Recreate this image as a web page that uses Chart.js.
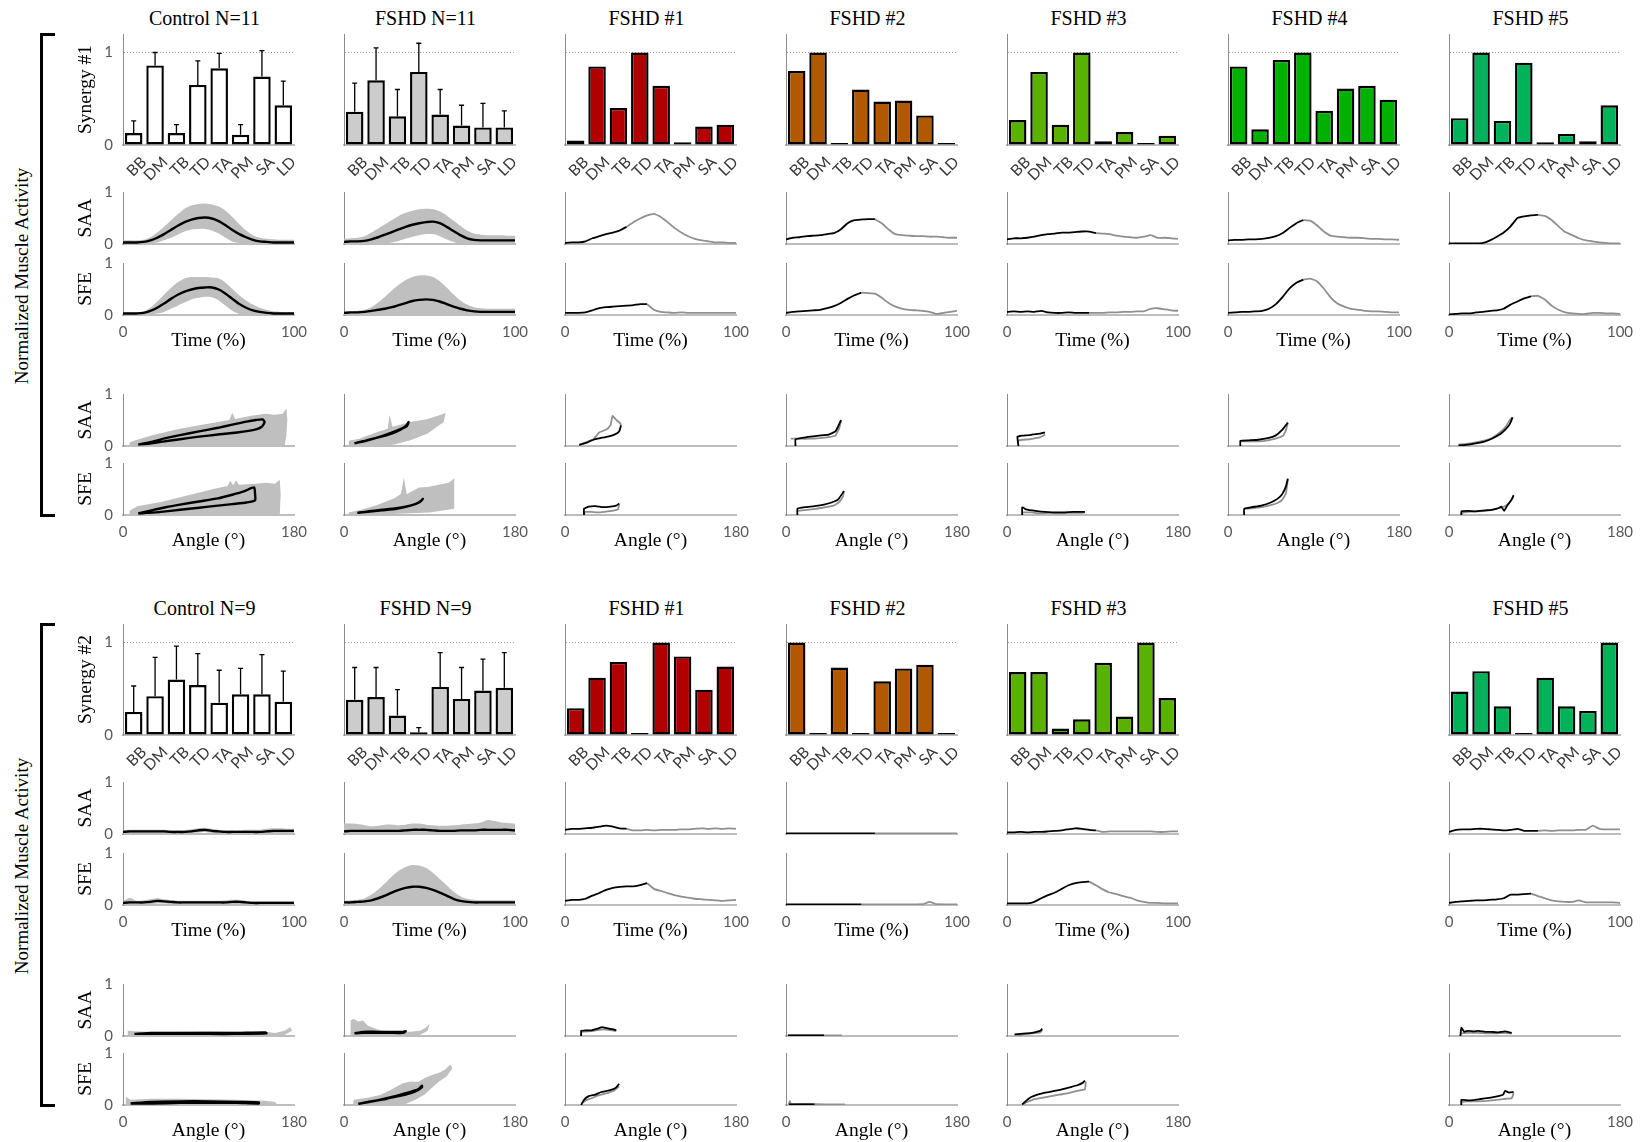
<!DOCTYPE html>
<html>
<head>
<meta charset="utf-8">
<script src="https://cdn.jsdelivr.net/npm/chart.js@4.4.1/dist/chart.umd.min.js"></script>
<style>
  html, body { margin: 0; padding: 0; background: #fff; }
  #fig { position: relative; width: 1643px; height: 1142px; overflow: hidden; background: #fff; }
  #fig canvas { position: absolute; }
  .ttl { position: absolute; font-family: 'Liberation Serif', 'Times New Roman', serif; font-size: 20px; color: #000;
         white-space: nowrap; transform: translate(-50%, -50%); line-height: 1; }
  .side { position: absolute; font-family: 'Liberation Serif', 'Times New Roman', serif; font-size: 19px; color: #000;
          white-space: nowrap; transform: translate(-50%, -50%) rotate(-90deg); line-height: 1; }
  .brk { position: absolute; border: 3px solid #000; border-right: none; width: 12px; }
</style>
</head>
<body>
<div id="fig"></div>
<script>
// ---------------- muscles and time base ----------------
const MUSCLES = ['BB', 'DM', 'TB', 'TD', 'TA', 'PM', 'SA', 'LD'];
const TIME = [0, 4, 8, 12, 16, 20, 24, 28, 32, 36, 40, 44, 48, 52, 56, 60, 64, 68, 72, 76, 80, 84, 88, 92, 96, 100];
const ZERO26 = [0,0,0,0,0,0,0,0,0,0,0,0,0,0,0,0,0,0,0,0,0,0,0,0,0,0];

// ---------------- Synergy #1: muscle weights ----------------
const s1_ctrl_w  = [0.13, 0.86, 0.13, 0.65, 0.83, 0.11, 0.74, 0.43];
const s1_ctrl_sd = [0.13, 0.14, 0.09, 0.26, 0.16, 0.11, 0.28, 0.26];
const s1_fshd_w  = [0.36, 0.70, 0.31, 0.79, 0.33, 0.21, 0.19, 0.19];
const s1_fshd_sd = [0.31, 0.35, 0.29, 0.31, 0.27, 0.22, 0.26, 0.18];
const s1_p1_w = [0.05, 0.85, 0.40, 1.00, 0.64, 0.03, 0.20, 0.22];
const s1_p2_w = [0.80, 1.00, 0.01, 0.60, 0.47, 0.48, 0.32, 0.01];
const s1_p3_w = [0.27, 0.79, 0.22, 1.00, 0.04, 0.14, 0.01, 0.10];
const s1_p4_w = [0.85, 0.17, 0.92, 1.00, 0.37, 0.61, 0.64, 0.49];
const s1_p5_w = [0.29, 1.00, 0.26, 0.89, 0.03, 0.12, 0.04, 0.43];

// ---------------- Synergy #1: activation over time ----------------
const s1_ctrl_saa_mean = [0.03,0.03,0.03,0.04,0.07,0.12,0.19,0.27,0.35,0.42,0.47,0.50,0.51,0.49,0.44,0.36,0.27,0.19,0.13,0.08,0.05,0.04,0.03,0.03,0.03,0.03];
const s1_ctrl_saa_hi   = [0.07,0.07,0.07,0.08,0.13,0.22,0.33,0.45,0.57,0.68,0.74,0.77,0.78,0.76,0.72,0.64,0.52,0.38,0.26,0.17,0.12,0.10,0.09,0.08,0.08,0.08];
const s1_ctrl_saa_lo   = [0,0,0,0,0.01,0.03,0.07,0.12,0.18,0.24,0.28,0.29,0.29,0.26,0.20,0.12,0.05,0.02,0,0,0,0,0,0,0,0];
const s1_ctrl_sfe_mean = [0.03,0.03,0.03,0.04,0.08,0.14,0.22,0.31,0.39,0.45,0.49,0.52,0.53,0.53,0.49,0.41,0.31,0.21,0.14,0.09,0.06,0.04,0.03,0.03,0.03,0.03];
const s1_ctrl_sfe_hi   = [0.05,0.05,0.05,0.07,0.14,0.26,0.39,0.52,0.63,0.70,0.73,0.73,0.73,0.72,0.70,0.62,0.50,0.38,0.28,0.20,0.14,0.10,0.07,0.06,0.05,0.05];
const s1_ctrl_sfe_lo   = [0,0,0,0,0.01,0.03,0.06,0.12,0.18,0.24,0.30,0.33,0.35,0.34,0.28,0.18,0.08,0.02,0,0,0,0,0,0,0,0];
const s1_fshd_saa_mean = [0.04,0.05,0.05,0.06,0.09,0.13,0.18,0.23,0.28,0.33,0.37,0.40,0.42,0.43,0.40,0.33,0.25,0.17,0.11,0.08,0.07,0.07,0.07,0.07,0.07,0.07];
const s1_fshd_saa_hi   = [0.10,0.11,0.12,0.15,0.22,0.30,0.38,0.46,0.54,0.60,0.64,0.67,0.68,0.67,0.63,0.55,0.45,0.35,0.26,0.20,0.18,0.17,0.17,0.17,0.16,0.16];
const s1_fshd_saa_lo   = [0,0,0,0,0,0,0.01,0.03,0.06,0.10,0.14,0.17,0.19,0.19,0.15,0.09,0.04,0.01,0,0,0,0,0,0,0,0];
const s1_fshd_sfe_mean = [0.04,0.05,0.05,0.06,0.08,0.10,0.12,0.15,0.19,0.23,0.27,0.29,0.30,0.29,0.26,0.21,0.16,0.12,0.09,0.07,0.06,0.06,0.06,0.06,0.06,0.06];
const s1_fshd_sfe_hi   = [0.06,0.07,0.08,0.10,0.15,0.24,0.35,0.47,0.58,0.67,0.73,0.76,0.76,0.73,0.65,0.53,0.40,0.28,0.20,0.15,0.13,0.12,0.12,0.12,0.12,0.12];
const s1_fshd_sfe_lo   = ZERO26;

const s1_p1_saa = [0.02,0.03,0.03,0.05,0.11,0.15,0.19,0.22,0.26,0.33,0.42,0.49,0.55,0.58,0.52,0.42,0.31,0.22,0.15,0.10,0.07,0.05,0.03,0.03,0.02,0.02];
const s1_p1_sfe = [0.04,0.04,0.04,0.05,0.09,0.13,0.15,0.16,0.17,0.18,0.19,0.21,0.21,0.10,0.06,0.05,0.04,0.05,0.04,0.04,0.04,0.04,0.04,0.04,0.04,0.04];
const s1_p2_saa = [0.09,0.12,0.13,0.15,0.16,0.17,0.19,0.21,0.28,0.40,0.46,0.47,0.48,0.48,0.40,0.28,0.19,0.17,0.16,0.15,0.15,0.14,0.14,0.13,0.12,0.12];
const s1_p2_sfe = [0.04,0.06,0.07,0.08,0.09,0.10,0.13,0.17,0.23,0.31,0.38,0.43,0.42,0.41,0.33,0.23,0.16,0.12,0.10,0.09,0.08,0.06,0.02,0.04,0.06,0.08];
const s1_p3_saa = [0.09,0.11,0.11,0.12,0.14,0.17,0.19,0.20,0.22,0.22,0.23,0.24,0.24,0.21,0.20,0.19,0.16,0.14,0.13,0.12,0.14,0.17,0.12,0.12,0.11,0.10];
const s1_p3_sfe = [0.06,0.07,0.06,0.07,0.06,0.08,0.05,0.04,0.04,0.05,0.04,0.04,0.04,0.04,0.04,0.05,0.05,0.06,0.06,0.07,0.07,0.12,0.13,0.11,0.09,0.08];
const s1_p4_saa = [0.07,0.08,0.08,0.09,0.09,0.10,0.12,0.15,0.21,0.31,0.40,0.46,0.45,0.36,0.24,0.16,0.14,0.13,0.12,0.12,0.11,0.10,0.10,0.09,0.09,0.08];
const s1_p4_sfe = [0.04,0.05,0.06,0.06,0.07,0.08,0.12,0.21,0.35,0.51,0.62,0.68,0.70,0.65,0.51,0.34,0.22,0.16,0.12,0.10,0.08,0.07,0.07,0.06,0.05,0.05];
const s1_p5_saa = [0.01,0.01,0.01,0.01,0.01,0.02,0.07,0.14,0.22,0.34,0.50,0.53,0.55,0.56,0.54,0.46,0.34,0.23,0.17,0.11,0.07,0.05,0.03,0.02,0.01,0.01];
const s1_p5_sfe = [0.01,0.02,0.03,0.03,0.05,0.06,0.08,0.09,0.12,0.20,0.26,0.32,0.36,0.37,0.30,0.18,0.10,0.05,0.03,0.02,0.02,0.04,0.04,0.03,0.03,0.02];
// sample index where the raising phase ends and the lowering phase starts (FSHD #1..#5)
const s1_saa_turn = [9, 13, 13, 11, 13];
const s1_sfe_turn = [12, 11, 12, 11, 12];

// ---------------- Synergy #1: activation against elevation angle ----------------
const s1_ctrl_saa_loop = [[16,0.03],[30,0.08],[45,0.15],[60,0.21],[80,0.28],[100,0.35],[115,0.41],[130,0.47],[140,0.50],[147,0.51],[149,0.46],[146,0.37],[140,0.32],[120,0.26],[100,0.22],[80,0.18],[60,0.13],[40,0.08],[25,0.04],[16,0.03]];
const s1_ctrl_saa_band = [[7,0],[7,0.07],[15,0.12],[30,0.20],[45,0.27],[60,0.33],[80,0.40],[100,0.46],[112,0.50],[115,0.64],[118,0.52],[135,0.58],[150,0.62],[160,0.60],[168,0.62],[172,0.72],[173,0.50],[172,0.20],[170,0],[100,0],[30,0],[7,0]];
const s1_ctrl_sfe_loop = [[16,0.03],[30,0.09],[45,0.15],[60,0.20],[80,0.26],[100,0.32],[115,0.39],[128,0.46],[138,0.53],[139,0.40],[139,0.28],[130,0.24],[115,0.21],[100,0.18],[80,0.14],[60,0.10],[40,0.06],[25,0.04],[16,0.03]];
const s1_ctrl_sfe_band = [[7,0],[7,0.08],[15,0.17],[40,0.25],[75,0.41],[95,0.50],[110,0.56],[113,0.66],[116,0.57],[119,0.67],[122,0.58],[140,0.60],[150,0.62],[160,0.60],[165,0.68],[166,0.40],[165,0],[100,0],[7,0]];
const s1_fshd_saa_loop = [[11,0.05],[20,0.09],[35,0.16],[50,0.24],[60,0.32],[66,0.40],[68,0.46],[66,0.38],[55,0.29],[40,0.19],[25,0.11],[13,0.06],[11,0.05]];
const s1_fshd_saa_band = [[5,0],[5,0.10],[16,0.14],[35,0.27],[46,0.33],[48,0.60],[51,0.37],[70,0.46],[88,0.52],[102,0.60],[107,0.64],[105,0.46],[88,0.24],[70,0.11],[53,0.03],[40,0],[5,0]];
const s1_fshd_sfe_loop = [[14,0.04],[25,0.07],[40,0.10],[55,0.13],[65,0.16],[75,0.21],[81,0.27],[83,0.31],[80,0.25],[70,0.18],[55,0.12],[40,0.09],[25,0.06],[14,0.04]];
const s1_fshd_sfe_band = [[5,0],[5,0.05],[18,0.10],[35,0.19],[53,0.32],[60,0.41],[63,0.72],[66,0.40],[79,0.53],[88,0.54],[100,0.58],[110,0.62],[116,0.70],[116,0.12],[90,0.05],[50,0.02],[5,0]];

const s1_p1_saa_up   = [[15,0.02],[22,0.06],[30,0.12],[37,0.15],[45,0.18],[52,0.22],[57,0.28],[59,0.40]];
const s1_p1_saa_back = [[15,0.02],[22,0.07],[30,0.13],[36,0.26],[44,0.32],[48,0.40],[50,0.58],[54,0.50],[58,0.44],[59,0.40]];
const s1_p1_sfe_up   = [[20,0],[20,0.12],[25,0.16],[32,0.17],[40,0.15],[48,0.16],[54,0.18],[57,0.22]];
const s1_p1_sfe_back = [[20,0],[21,0.06],[28,0.06],[36,0.05],[45,0.07],[52,0.09],[56,0.11],[57,0.22]];
const s1_p2_saa_up   = [[10,0],[10,0.13],[18,0.16],[26,0.18],[35,0.20],[45,0.22],[52,0.28],[55,0.38],[58,0.50]];
const s1_p2_saa_back = [[5,0.14],[15,0.14],[25,0.14],[35,0.15],[45,0.17],[52,0.20],[56,0.34],[58,0.48]];
const s1_p2_sfe_up   = [[12,0],[12,0.12],[20,0.15],[30,0.17],[40,0.20],[48,0.24],[55,0.30],[61,0.46]];
const s1_p2_sfe_back = [[12,0.08],[22,0.10],[32,0.12],[42,0.15],[50,0.18],[56,0.25],[60,0.36],[61,0.46]];
const s1_p3_saa_up   = [[12,0],[11,0.18],[16,0.20],[24,0.21],[30,0.23],[35,0.24],[40,0.26]];
const s1_p3_saa_back = [[11,0.10],[16,0.12],[24,0.13],[30,0.15],[35,0.17],[40,0.22]];
const s1_p3_sfe_up   = [[16,0],[16,0.15],[20,0.11],[30,0.08],[40,0.06],[55,0.05],[70,0.06],[82,0.06]];
const s1_p3_sfe_back = [[16,0.05],[25,0.05],[35,0.03],[45,0.04],[55,0.03],[65,0.04],[75,0.04],[82,0.05]];
const s1_p4_saa_up   = [[13,0],[13,0.10],[22,0.11],[32,0.12],[42,0.15],[50,0.20],[57,0.31],[63,0.45]];
const s1_p4_saa_back = [[13,0.09],[22,0.09],[32,0.09],[42,0.11],[50,0.14],[58,0.20],[61,0.30],[63,0.45]];
const s1_p4_sfe_up   = [[17,0],[17,0.12],[25,0.15],[35,0.18],[45,0.24],[52,0.31],[57,0.40],[61,0.55],[63,0.70]];
const s1_p4_sfe_back = [[17,0.12],[25,0.13],[35,0.15],[45,0.19],[52,0.23],[57,0.29],[61,0.42],[63,0.68]];
const s1_p5_saa_up   = [[10,0.01],[18,0.02],[28,0.05],[38,0.09],[45,0.14],[54,0.23],[60,0.33],[64,0.42],[67,0.55]];
const s1_p5_saa_back = [[10,0.03],[18,0.04],[28,0.07],[38,0.11],[45,0.15],[54,0.27],[60,0.38],[64,0.50],[67,0.55]];
const s1_p5_sfe_up   = [[13,0],[13,0.07],[20,0.08],[28,0.07],[38,0.09],[45,0.10],[52,0.13],[55,0.16],[58,0.08],[62,0.20],[66,0.30],[68,0.38]];
const s1_p5_sfe_back = [[13,0.04],[20,0.06],[28,0.07],[38,0.08],[45,0.10],[52,0.13],[56,0.15],[60,0.18],[64,0.24],[68,0.36]];

// ---------------- Synergy #2: muscle weights ----------------
const s2_ctrl_w  = [0.25, 0.42, 0.60, 0.54, 0.35, 0.44, 0.44, 0.36];
const s2_ctrl_sd = [0.28, 0.42, 0.36, 0.34, 0.35, 0.28, 0.43, 0.33];
const s2_fshd_w  = [0.38, 0.41, 0.21, 0.03, 0.52, 0.39, 0.48, 0.51];
const s2_fshd_sd = [0.35, 0.32, 0.28, 0.05, 0.37, 0.34, 0.34, 0.38];
const s2_p1_w = [0.29, 0.62, 0.79, 0.01, 1.00, 0.85, 0.49, 0.74];
const s2_p2_w = [1.00, 0.01, 0.73, 0.01, 0.58, 0.72, 0.76, 0.01];
const s2_p3_w = [0.68, 0.68, 0.07, 0.17, 0.78, 0.20, 1.00, 0.40];
const s2_p5_w = [0.47, 0.69, 0.31, 0.01, 0.62, 0.31, 0.26, 1.00];

// ---------------- Synergy #2: activation over time ----------------
const s2_ctrl_saa_mean = [0.04,0.05,0.05,0.05,0.05,0.05,0.05,0.04,0.04,0.04,0.05,0.07,0.08,0.06,0.05,0.04,0.04,0.04,0.04,0.04,0.04,0.05,0.06,0.06,0.06,0.06];
const s2_ctrl_saa_hi   = [0.07,0.08,0.08,0.08,0.08,0.08,0.08,0.07,0.07,0.07,0.09,0.11,0.12,0.10,0.08,0.07,0.07,0.07,0.08,0.08,0.08,0.10,0.11,0.11,0.10,0.10];
const s2_ctrl_saa_lo   = [0.01,0.02,0.02,0.02,0.02,0.02,0.02,0.01,0.01,0.01,0.02,0.03,0.04,0.02,0.02,0.01,0.01,0.01,0.01,0.01,0.01,0.01,0.02,0.02,0.02,0.02];
const s2_ctrl_sfe_mean = [0.04,0.05,0.05,0.05,0.06,0.08,0.07,0.06,0.05,0.05,0.05,0.05,0.05,0.05,0.05,0.05,0.06,0.06,0.05,0.04,0.04,0.04,0.04,0.04,0.04,0.04];
const s2_ctrl_sfe_hi   = [0.07,0.14,0.08,0.09,0.11,0.13,0.11,0.09,0.08,0.08,0.08,0.08,0.08,0.08,0.08,0.09,0.10,0.10,0.08,0.07,0.07,0.07,0.07,0.07,0.07,0.07];
const s2_ctrl_sfe_lo   = [0.01,0.01,0.02,0.02,0.02,0.03,0.03,0.02,0.02,0.02,0.02,0.02,0.02,0.02,0.02,0.02,0.02,0.02,0.02,0.01,0.01,0.01,0.01,0.01,0.01,0.01];
const s2_fshd_saa_mean = [0.05,0.06,0.06,0.06,0.06,0.06,0.06,0.06,0.06,0.07,0.08,0.08,0.08,0.07,0.06,0.06,0.06,0.07,0.07,0.07,0.08,0.08,0.08,0.08,0.08,0.07];
const s2_fshd_saa_hi   = [0.20,0.20,0.19,0.17,0.15,0.16,0.18,0.18,0.17,0.18,0.20,0.20,0.18,0.17,0.16,0.16,0.17,0.18,0.19,0.20,0.22,0.27,0.25,0.22,0.21,0.20];
const s2_fshd_saa_lo   = ZERO26;
const s2_fshd_sfe_mean = [0.05,0.05,0.06,0.07,0.09,0.13,0.18,0.24,0.29,0.33,0.35,0.35,0.33,0.29,0.24,0.18,0.12,0.08,0.06,0.05,0.05,0.05,0.05,0.05,0.05,0.05];
const s2_fshd_sfe_hi   = [0.08,0.09,0.10,0.13,0.20,0.30,0.42,0.55,0.66,0.73,0.77,0.76,0.71,0.62,0.50,0.38,0.26,0.17,0.12,0.10,0.09,0.09,0.09,0.09,0.09,0.09];
const s2_fshd_sfe_lo   = ZERO26;

const s2_p1_saa = [0.08,0.10,0.10,0.11,0.12,0.14,0.16,0.14,0.11,0.10,0.07,0.07,0.08,0.07,0.08,0.08,0.08,0.09,0.09,0.10,0.11,0.10,0.11,0.10,0.11,0.10];
const s2_p1_sfe = [0.08,0.10,0.10,0.12,0.18,0.23,0.29,0.33,0.35,0.36,0.36,0.38,0.42,0.31,0.27,0.23,0.19,0.16,0.14,0.12,0.11,0.10,0.09,0.08,0.09,0.10];
const s2_p2_saa = [0.012,0.012,0.012,0.012,0.012,0.012,0.012,0.012,0.012,0.012,0.012,0.012,0.012,0.012,0.012,0.012,0.012,0.012,0.012,0.012,0.012,0.012,0.012,0.012,0.012,0.012];
const s2_p2_sfe = [0.012,0.012,0.012,0.012,0.012,0.012,0.012,0.012,0.012,0.012,0.012,0.012,0.012,0.012,0.012,0.012,0.012,0.012,0.012,0.012,0.015,0.06,0.015,0.012,0.012,0.012];
const s2_p3_saa = [0.03,0.03,0.04,0.03,0.04,0.04,0.05,0.06,0.07,0.09,0.11,0.10,0.08,0.07,0.04,0.05,0.05,0.05,0.05,0.05,0.05,0.05,0.04,0.04,0.05,0.05];
const s2_p3_sfe = [0.03,0.03,0.03,0.03,0.06,0.13,0.19,0.24,0.31,0.38,0.42,0.44,0.45,0.38,0.30,0.24,0.21,0.17,0.14,0.09,0.06,0.04,0.04,0.03,0.03,0.03];
const s2_p5_saa = [0.04,0.08,0.09,0.09,0.10,0.10,0.09,0.08,0.07,0.08,0.10,0.06,0.06,0.06,0.07,0.06,0.07,0.07,0.07,0.08,0.08,0.16,0.10,0.09,0.09,0.09];
const s2_p5_sfe = [0.04,0.06,0.07,0.08,0.09,0.09,0.10,0.11,0.13,0.20,0.20,0.21,0.22,0.17,0.13,0.09,0.07,0.06,0.06,0.09,0.05,0.05,0.05,0.05,0.05,0.04];
// sample index of the turn for FSHD #1, #2, #3, #5
const s2_saa_turn = [9, 13, 13, 13];
const s2_sfe_turn = [12, 11, 12, 12];

// ---------------- Synergy #2: activation against elevation angle ----------------
const s2_ctrl_saa_loop = [[12,0.04],[30,0.06],[60,0.06],[90,0.06],[120,0.06],[150,0.07],[151,0.05],[120,0.04],[90,0.04],[60,0.04],[30,0.04],[12,0.04]];
const s2_ctrl_saa_band = [[5,0],[5,0.10],[12,0.09],[30,0.08],[60,0.08],[90,0.09],[120,0.08],[150,0.08],[160,0.06],[170,0.10],[176,0.17],[178,0.10],[170,0.02],[150,0.01],[5,0]];
const s2_ctrl_sfe_loop = [[8,0.03],[30,0.06],[60,0.07],[90,0.07],[120,0.06],[143,0.05],[143,0.03],[120,0.04],[90,0.04],[60,0.04],[30,0.03],[8,0.03]];
const s2_ctrl_sfe_band = [[3,0],[3,0.16],[8,0.10],[30,0.12],[60,0.12],[90,0.11],[120,0.10],[150,0.08],[160,0.06],[162,0.02],[150,0],[3,0]];
const s2_fshd_saa_loop = [[11,0.05],[20,0.08],[35,0.08],[50,0.08],[62,0.08],[65,0.09],[62,0.06],[50,0.06],[35,0.06],[20,0.06],[11,0.05]];
const s2_fshd_saa_band = [[7,0],[7,0.30],[10,0.33],[15,0.28],[20,0.30],[25,0.20],[32,0.15],[40,0.10],[55,0.09],[70,0.08],[80,0.10],[86,0.16],[90,0.23],[88,0.10],[80,0.02],[60,0.01],[7,0]];
const s2_fshd_sfe_loop = [[15,0.02],[25,0.06],[35,0.09],[45,0.12],[55,0.16],[65,0.20],[75,0.26],[82,0.34],[82,0.37],[78,0.30],[68,0.24],[58,0.19],[45,0.13],[30,0.07],[15,0.02]];
const s2_fshd_sfe_band = [[10,0.02],[10,0.10],[25,0.14],[38,0.19],[48,0.28],[55,0.35],[62,0.42],[70,0.45],[78,0.44],[85,0.52],[92,0.57],[100,0.62],[106,0.68],[112,0.78],[114,0.70],[108,0.55],[100,0.45],[92,0.32],[85,0.20],[75,0.10],[65,0.02],[58,0],[25,0],[10,0.02]];

const s2_p1_saa_up   = [[17,0],[17,0.10],[22,0.11],[28,0.11],[34,0.14],[39,0.17],[44,0.15],[50,0.13],[54,0.11]];
const s2_p1_saa_back = [[17,0.08],[24,0.09],[30,0.10],[36,0.12],[40,0.13],[46,0.12],[52,0.10],[54,0.10]];
const s2_p1_sfe_up   = [[17,0],[20,0.10],[25,0.17],[32,0.20],[38,0.25],[44,0.27],[50,0.30],[54,0.34],[57,0.41]];
const s2_p1_sfe_back = [[17,0.03],[22,0.09],[28,0.13],[34,0.18],[40,0.21],[46,0.24],[52,0.28],[57,0.36]];
const s2_p2_saa_up   = [[2,0.012],[40,0.012]];
const s2_p2_saa_back = [[2,0.012],[59,0.012]];
const s2_p2_sfe_up   = [[3,0.012],[30,0.012]];
const s2_p2_sfe_back = [[3,0.012],[4,0.08],[5,0.02],[20,0.02],[40,0.012],[62,0.012]];
const s2_p3_saa_up   = [[8,0.03],[14,0.04],[20,0.05],[26,0.06],[31,0.08],[35,0.10],[37,0.14]];
const s2_p3_saa_back = [[8,0.02],[14,0.02],[20,0.04],[26,0.05],[31,0.06],[35,0.07],[37,0.12]];
const s2_p3_sfe_up   = [[16,0.01],[20,0.08],[25,0.15],[32,0.20],[40,0.24],[50,0.27],[58,0.30],[66,0.34],[74,0.38],[80,0.43],[82,0.47]];
const s2_p3_sfe_back = [[16,0],[20,0.05],[27,0.10],[35,0.13],[44,0.16],[55,0.20],[65,0.23],[74,0.27],[82,0.30],[83,0.45]];
const s2_p5_saa_up   = [[12,0],[13,0.16],[16,0.08],[20,0.10],[26,0.09],[31,0.10],[38,0.08],[44,0.08],[52,0.07],[59,0.09],[66,0.06]];
const s2_p5_saa_back = [[12,0.05],[20,0.06],[30,0.06],[40,0.05],[50,0.05],[58,0.06],[63,0.05],[66,0.05]];
const s2_p5_sfe_up   = [[13,0],[13,0.10],[20,0.09],[27,0.10],[35,0.12],[44,0.14],[52,0.17],[57,0.20],[59,0.27],[63,0.24],[68,0.25]];
const s2_p5_sfe_back = [[13,0.06],[20,0.07],[30,0.07],[40,0.08],[50,0.10],[60,0.12],[66,0.13],[68,0.23]];

// ---------------- figure layout ----------------
// y tick padding also widens Chart.js' top/bottom padding, so every canvas
// reserves PAD_T above the plot and at least that much below it
const COL_X0 = 123, COL_DX = 221, PLOT_W = 171;
const AXIS_W = 50, PAD_T = 22, PAD_R = 24;
const BLOCK_DY = 590;
const ROWS = {
  bar:  { top: 34,  bottom: 145, axisH: 42 },
  saaT: { top: 192, bottom: 244, axisH: 22 },
  sfeT: { top: 263, bottom: 315, axisH: 40 },
  saaA: { top: 394, bottom: 446, axisH: 22 },
  sfeA: { top: 463, bottom: 515, axisH: 40 }
};
const SERIF = "'Liberation Serif', 'Times New Roman', serif";
const SANS = "Lato, 'Open Sans', sans-serif";
const TICK_FONT = { family: SANS, size: 15 };
const CAT_FONT = { family: SANS, size: 15.5 };
const LABEL_FONT = { family: SERIF, size: 19.5 };
const TICK_COLOR = '#595959';
const BAND = '#bfbfbf';
const RETURN_GREY = '#8f8f8f';
const BAR_COLORS = ['#ffffff', '#cccccc', '#b20000', '#b25900', '#59b200', '#00b200', '#00b259'];

const fig = document.getElementById('fig');

function place(c, b, row) {
  const r = ROWS[row];
  const cv = document.createElement('canvas');
  const w = AXIS_W + PLOT_W + PAD_R;
  const h = PAD_T + (r.bottom - r.top) + r.axisH;
  cv.width = w; cv.height = h;
  cv.style.width = w + 'px'; cv.style.height = h + 'px';
  cv.style.left = (COL_X0 + COL_DX * c - AXIS_W) + 'px';
  cv.style.top = (r.top + BLOCK_DY * b - PAD_T) + 'px';
  fig.appendChild(cv);
  return cv;
}

function baseOptions() {
  return {
    responsive: false, animation: false, devicePixelRatio: 1, events: [],
    layout: { padding: { top: PAD_T, right: PAD_R, left: 0, bottom: 0 } },
    plugins: { legend: { display: false }, tooltip: { enabled: false } },
    elements: { point: { radius: 0 } }
  };
}

function yAxis(max, first, label, dotted) {
  return {
    type: 'linear', min: 0, max: max,
    afterBuildTicks: s => { s.ticks = [{ value: 0 }, { value: 1 }]; },
    afterFit: s => { s.width = AXIS_W; },
    ticks: { display: first, padding: 10, font: TICK_FONT, color: TICK_COLOR },
    grid: dotted
      ? { display: true, drawTicks: false, lineWidth: 1,
          color: ctx => (ctx.tick && ctx.tick.value === 1) ? '#9a9a9a' : 'rgba(0,0,0,0)' }
      : { display: false, drawTicks: false },
    border: { display: true, color: '#8c8c8c', width: 1, dash: dotted ? [1, 2] : [] },
    title: { display: first, text: label, font: LABEL_FONT, color: '#000', padding: { top: 1, bottom: 0 } }
  };
}

function xLinear(max, show, label, axisH) {
  return {
    type: 'linear', min: 0, max: max,
    afterBuildTicks: s => { s.ticks = [{ value: 0 }, { value: max }]; },
    afterFit: s => { s.height = axisH; },
    ticks: { display: show, padding: 8, maxRotation: 0, minRotation: 0, font: TICK_FONT, color: TICK_COLOR },
    grid: { display: false, drawTicks: false },
    border: { display: true, color: '#bdbdbd', width: 2 },
    title: { display: show, text: label, font: LABEL_FONT, color: '#000', padding: { top: 0, bottom: 2 } }
  };
}

// upward error bars (mean + SD) with a small cap
const errorBars = {
  id: 'errorBars',
  afterDatasetsDraw(chart) {
    const ds = chart.data.datasets[0];
    if (!ds.errors) return;
    const meta = chart.getDatasetMeta(0);
    const y = chart.scales.y;
    const ctx = chart.ctx;
    ctx.save();
    ctx.strokeStyle = '#000';
    ctx.lineWidth = 1.3;
    meta.data.forEach((bar, i) => {
      const top = y.getPixelForValue(ds.data[i] + ds.errors[i]);
      ctx.beginPath();
      ctx.moveTo(bar.x, bar.y);
      ctx.lineTo(bar.x, top);
      ctx.moveTo(bar.x - 2.5, top);
      ctx.lineTo(bar.x + 2.5, top);
      ctx.stroke();
    });
    ctx.restore();
  }
};

function barPanel(b, col, synLabel) {
  const cv = place(col.c, b, 'bar');
  const first = col.c === 0;
  const opts = baseOptions();
  opts.scales = {
    x: {
      type: 'category', offset: true,
      afterFit: s => { s.height = ROWS.bar.axisH; },
      ticks: { minRotation: 45, maxRotation: 45, autoSkip: false, padding: 8, labelOffset: 10,
               font: CAT_FONT, color: '#383838' },
      grid: { display: false, drawTicks: false },
      border: { display: true, color: '#bdbdbd', width: 2 }
    },
    y: yAxis(1.2, first, synLabel, true)
  };
  new Chart(cv, {
    type: 'bar',
    data: {
      labels: MUSCLES,
      datasets: [{
        data: col.w, errors: col.sd || null,
        backgroundColor: col.color, borderColor: '#000', borderWidth: 2.4, borderSkipped: false,
        barPercentage: 0.82, categoryPercentage: 1, minBarLength: 2
      }]
    },
    options: opts,
    plugins: [errorBars]
  });
}

const timePts = arr => arr.map((v, i) => [TIME[i], v]);

function linePanel(b, c, row, datasets) {
  const cv = place(c, b, row);
  const first = c === 0;
  const isTime = row === 'saaT' || row === 'sfeT';
  const showX = row === 'sfeT' || row === 'sfeA';
  const opts = baseOptions();
  opts.scales = {
    x: xLinear(isTime ? 100 : 180, showX, isTime ? 'Time (%)' : 'Angle (\u00b0)', ROWS[row].axisH),
    y: yAxis(1, first, row.startsWith('saa') ? 'SAA' : 'SFE', false)
  };
  new Chart(cv, { type: 'line', data: { datasets: datasets }, options: opts });
}

function groupTime(t) {
  return [
    { data: timePts(t.mean), borderColor: '#000', borderWidth: 2.4, tension: 0.3, fill: false },
    { data: timePts(t.hi), borderColor: 'rgba(0,0,0,0)', borderWidth: 0, backgroundColor: BAND, fill: '+1', tension: 0.3 },
    { data: timePts(t.lo), borderColor: 'rgba(0,0,0,0)', borderWidth: 0, fill: false, tension: 0.3 }
  ];
}
function groupAngle(a) {
  return [
    { data: a.loop, borderColor: '#000', borderWidth: 2.4, tension: 0.2, fill: false },
    { data: a.band, borderColor: 'rgba(0,0,0,0)', borderWidth: 0, backgroundColor: BAND, fill: 'shape', tension: 0 }
  ];
}
function indivTime(trace, turn) {
  const p = timePts(trace);
  return [
    { data: p.slice(0, turn + 1), borderColor: '#000', borderWidth: 1.8, tension: 0.1, fill: false },
    { data: p.slice(turn), borderColor: RETURN_GREY, borderWidth: 1.8, tension: 0.1, fill: false }
  ];
}
function indivAngle(up, back) {
  return [
    { data: up, borderColor: '#000', borderWidth: 1.8, tension: 0.1, fill: false },
    { data: back, borderColor: RETURN_GREY, borderWidth: 1.8, tension: 0.1, fill: false }
  ];
}

// ---------------- column definitions ----------------
const BLOCKS = [
  {
    label: 'Synergy #1',
    cols: [
      { c: 0, title: 'Control N=11', color: BAR_COLORS[0], w: s1_ctrl_w, sd: s1_ctrl_sd, group: true,
        saaT: { mean: s1_ctrl_saa_mean, hi: s1_ctrl_saa_hi, lo: s1_ctrl_saa_lo },
        sfeT: { mean: s1_ctrl_sfe_mean, hi: s1_ctrl_sfe_hi, lo: s1_ctrl_sfe_lo },
        saaA: { loop: s1_ctrl_saa_loop, band: s1_ctrl_saa_band },
        sfeA: { loop: s1_ctrl_sfe_loop, band: s1_ctrl_sfe_band } },
      { c: 1, title: 'FSHD N=11', color: BAR_COLORS[1], w: s1_fshd_w, sd: s1_fshd_sd, group: true,
        saaT: { mean: s1_fshd_saa_mean, hi: s1_fshd_saa_hi, lo: s1_fshd_saa_lo },
        sfeT: { mean: s1_fshd_sfe_mean, hi: s1_fshd_sfe_hi, lo: s1_fshd_sfe_lo },
        saaA: { loop: s1_fshd_saa_loop, band: s1_fshd_saa_band },
        sfeA: { loop: s1_fshd_sfe_loop, band: s1_fshd_sfe_band } },
      { c: 2, title: 'FSHD #1', color: BAR_COLORS[2], w: s1_p1_w,
        saaT: [s1_p1_saa, s1_saa_turn[0]], sfeT: [s1_p1_sfe, s1_sfe_turn[0]],
        saaA: [s1_p1_saa_up, s1_p1_saa_back], sfeA: [s1_p1_sfe_up, s1_p1_sfe_back] },
      { c: 3, title: 'FSHD #2', color: BAR_COLORS[3], w: s1_p2_w,
        saaT: [s1_p2_saa, s1_saa_turn[1]], sfeT: [s1_p2_sfe, s1_sfe_turn[1]],
        saaA: [s1_p2_saa_up, s1_p2_saa_back], sfeA: [s1_p2_sfe_up, s1_p2_sfe_back] },
      { c: 4, title: 'FSHD #3', color: BAR_COLORS[4], w: s1_p3_w,
        saaT: [s1_p3_saa, s1_saa_turn[2]], sfeT: [s1_p3_sfe, s1_sfe_turn[2]],
        saaA: [s1_p3_saa_up, s1_p3_saa_back], sfeA: [s1_p3_sfe_up, s1_p3_sfe_back] },
      { c: 5, title: 'FSHD #4', color: BAR_COLORS[5], w: s1_p4_w,
        saaT: [s1_p4_saa, s1_saa_turn[3]], sfeT: [s1_p4_sfe, s1_sfe_turn[3]],
        saaA: [s1_p4_saa_up, s1_p4_saa_back], sfeA: [s1_p4_sfe_up, s1_p4_sfe_back] },
      { c: 6, title: 'FSHD #5', color: BAR_COLORS[6], w: s1_p5_w,
        saaT: [s1_p5_saa, s1_saa_turn[4]], sfeT: [s1_p5_sfe, s1_sfe_turn[4]],
        saaA: [s1_p5_saa_up, s1_p5_saa_back], sfeA: [s1_p5_sfe_up, s1_p5_sfe_back] }
    ]
  },
  {
    label: 'Synergy #2',
    cols: [
      { c: 0, title: 'Control N=9', color: BAR_COLORS[0], w: s2_ctrl_w, sd: s2_ctrl_sd, group: true,
        saaT: { mean: s2_ctrl_saa_mean, hi: s2_ctrl_saa_hi, lo: s2_ctrl_saa_lo },
        sfeT: { mean: s2_ctrl_sfe_mean, hi: s2_ctrl_sfe_hi, lo: s2_ctrl_sfe_lo },
        saaA: { loop: s2_ctrl_saa_loop, band: s2_ctrl_saa_band },
        sfeA: { loop: s2_ctrl_sfe_loop, band: s2_ctrl_sfe_band } },
      { c: 1, title: 'FSHD N=9', color: BAR_COLORS[1], w: s2_fshd_w, sd: s2_fshd_sd, group: true,
        saaT: { mean: s2_fshd_saa_mean, hi: s2_fshd_saa_hi, lo: s2_fshd_saa_lo },
        sfeT: { mean: s2_fshd_sfe_mean, hi: s2_fshd_sfe_hi, lo: s2_fshd_sfe_lo },
        saaA: { loop: s2_fshd_saa_loop, band: s2_fshd_saa_band },
        sfeA: { loop: s2_fshd_sfe_loop, band: s2_fshd_sfe_band } },
      { c: 2, title: 'FSHD #1', color: BAR_COLORS[2], w: s2_p1_w,
        saaT: [s2_p1_saa, s2_saa_turn[0]], sfeT: [s2_p1_sfe, s2_sfe_turn[0]],
        saaA: [s2_p1_saa_up, s2_p1_saa_back], sfeA: [s2_p1_sfe_up, s2_p1_sfe_back] },
      { c: 3, title: 'FSHD #2', color: BAR_COLORS[3], w: s2_p2_w,
        saaT: [s2_p2_saa, s2_saa_turn[1]], sfeT: [s2_p2_sfe, s2_sfe_turn[1]],
        saaA: [s2_p2_saa_up, s2_p2_saa_back], sfeA: [s2_p2_sfe_up, s2_p2_sfe_back] },
      { c: 4, title: 'FSHD #3', color: BAR_COLORS[4], w: s2_p3_w,
        saaT: [s2_p3_saa, s2_saa_turn[2]], sfeT: [s2_p3_sfe, s2_sfe_turn[2]],
        saaA: [s2_p3_saa_up, s2_p3_saa_back], sfeA: [s2_p3_sfe_up, s2_p3_sfe_back] },
      { c: 6, title: 'FSHD #5', color: BAR_COLORS[6], w: s2_p5_w,
        saaT: [s2_p5_saa, s2_saa_turn[3]], sfeT: [s2_p5_sfe, s2_sfe_turn[3]],
        saaA: [s2_p5_saa_up, s2_p5_saa_back], sfeA: [s2_p5_sfe_up, s2_p5_sfe_back] }
    ]
  }
];

// ---------------- build the figure ----------------
function addText(cls, text, x, y) {
  const d = document.createElement('div');
  d.className = cls;
  d.textContent = text;
  d.style.left = x + 'px';
  d.style.top = y + 'px';
  fig.appendChild(d);
}

BLOCKS.forEach((blk, b) => {
  const dy = BLOCK_DY * b;
  // bracket and shared y label
  const br = document.createElement('div');
  br.className = 'brk';
  br.style.left = '40px';
  br.style.top = (33 + dy) + 'px';
  br.style.height = '478px';
  fig.appendChild(br);
  addText('side', 'Normalized Muscle Activity', 21, 276 + dy);

  blk.cols.forEach(col => {
    addText('ttl', col.title, COL_X0 + COL_DX * col.c + PLOT_W / 2 - 4, 18 + dy);
    barPanel(b, col, blk.label);
    if (col.group) {
      linePanel(b, col.c, 'saaT', groupTime(col.saaT));
      linePanel(b, col.c, 'sfeT', groupTime(col.sfeT));
      linePanel(b, col.c, 'saaA', groupAngle(col.saaA));
      linePanel(b, col.c, 'sfeA', groupAngle(col.sfeA));
    } else {
      linePanel(b, col.c, 'saaT', indivTime(col.saaT[0], col.saaT[1]));
      linePanel(b, col.c, 'sfeT', indivTime(col.sfeT[0], col.sfeT[1]));
      linePanel(b, col.c, 'saaA', indivAngle(col.saaA[0], col.saaA[1]));
      linePanel(b, col.c, 'sfeA', indivAngle(col.sfeA[0], col.sfeA[1]));
    }
  });
});
</script>
</body>
</html>
